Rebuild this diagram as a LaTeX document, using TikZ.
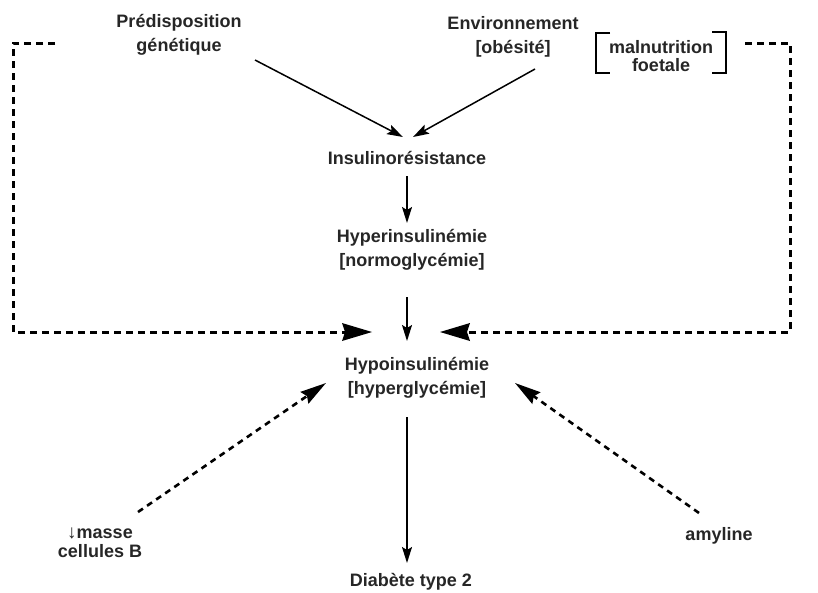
\documentclass[tikz,border=0pt]{standalone}
\usepackage{fontspec}
\setmainfont{Liberation Sans}
\usetikzlibrary{arrows.meta}
\begin{document}
\begin{tikzpicture}[x=1pt,y=-1pt,
  lbl/.style={font=\bfseries\fontsize{18}{24}\selectfont, inner sep=0pt, align=center, text=black!85},
  solidarr/.style={line width=1.5pt, -{Stealth[length=16pt,width=10pt,inset=3pt]}},
  dasharr/.style={line width=3pt, dash pattern=on 7pt off 5pt, -{Stealth[length=30pt,width=18pt,inset=3pt,line width=0pt]}},
  dashthin/.style={line width=2.6pt, dash pattern=on 6pt off 5pt, -{Stealth[length=26pt,width=14pt,inset=3pt]}},
  brk/.style={line width=1.3pt}]
\useasboundingbox (0,0) rectangle (818,592);

\node[lbl] (pred) at (179,35) {Prédisposition\\génétique};
\node[lbl] (env) at (513,37) {Environnement\\{[obésité]}};
\node[lbl, font=\bfseries\fontsize{18}{18}\selectfont] (mal) at (661,56) {malnutrition\\foetale};
\node[lbl] (ins) at (407,158) {Insulinorésistance};
\node[lbl] (hyper) at (412,250) {Hyperinsulinémie\\{[normoglycémie]}};
\node[lbl] (hypo) at (417,378) {Hypoinsulinémie\\{[hyperglycémie]}};
\node[lbl, font=\bfseries\fontsize{18}{19}\selectfont] (masse) at (100,543) {{\mdseries\fontsize{19}{19}\selectfont↓}masse\\cellules B};
\node[lbl] (amy) at (719,536) {amyline};
\node[lbl] (diab) at (411,582) {Diabète type 2};

% brackets around malnutrition foetale
\draw[brk] (610,33) -- (596,33) -- (596,73) -- (610,73);
\draw[brk] (712,32) -- (726,32) -- (726,73) -- (712,73);

% coordinates for connector ends
\coordinate (p1) at (255,60);
\coordinate (p2) at (403,137);
\coordinate (e1) at (535,69);
\coordinate (e2) at (413,137);
\coordinate (i1) at (407,176);
\coordinate (i2) at (407,223);
\coordinate (h1) at (407,297);
\coordinate (h2) at (407,341);
\coordinate (L0) at (55,43);
\coordinate (L1) at (13,43);
\coordinate (L2) at (13,332);
\coordinate (L3) at (372,332);
\coordinate (R0) at (745,43);
\coordinate (R1) at (790,43);
\coordinate (R2) at (790,332);
\coordinate (R3) at (440,332);
\coordinate (m1) at (138,512);
\coordinate (m2) at (326,383);
\coordinate (a1) at (699,513);
\coordinate (a2) at (515,383);
\coordinate (d1) at (407,417);
\coordinate (d2) at (407,563);

\draw[solidarr] (p1) -- (p2);
\draw[solidarr] (e1) -- (e2);
\draw[solidarr] (i1) -- (i2);
\draw[solidarr] (h1) -- (h2);
\draw[solidarr] (d1) -- (d2);

\draw[dasharr] (L0) -- (L1) -- (L2) -- (L3);
\draw[dasharr] (R0) -- (R1) -- (R2) -- (R3);

\draw[dashthin] (m1) -- (m2);
\draw[dashthin] (a1) -- (a2);
\end{tikzpicture}
\end{document}
